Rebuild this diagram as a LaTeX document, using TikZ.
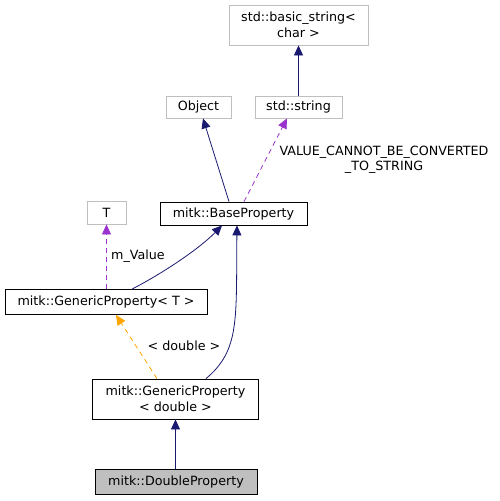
\documentclass[tikz,border=0pt]{standalone}
\usepackage{fontspec}
\setmainfont{DejaVu Sans}
\usetikzlibrary{arrows.meta}
\definecolor{navy}{HTML}{191970}
\definecolor{purp}{HTML}{9A32CD}
\definecolor{orng}{HTML}{FFA500}
\definecolor{gborder}{HTML}{BFBFBF}
\definecolor{gfill}{HTML}{BFBFBF}
\begin{document}
\begin{tikzpicture}[x=1pt,y=-1pt,
  every node/.style={font=\fontsize{12.7}{15.5}\selectfont, inner sep=0pt, align=center},
  ext/.style={draw=gborder, fill=white, line width=0.8pt},
  cls/.style={draw=black, fill=white, line width=0.8pt},
  cur/.style={draw=black, fill=gfill, line width=0.8pt},
  inh/.style={draw=navy, line width=0.8pt, -{Triangle[length=10pt,width=9pt]}},
  use/.style={draw=purp, line width=0.8pt, dash pattern=on 5pt off 4pt, -{Triangle[length=10pt,width=9pt]}},
  tpl/.style={draw=orng, line width=0.8pt, dash pattern=on 5pt off 4pt, -{Triangle[length=10pt,width=9pt]}},
  lbl/.style={font=\fontsize{12.7}{15.5}\selectfont}
]
\useasboundingbox (0,0) rectangle (499,501);
\node[ext, minimum width=139pt, minimum height=40pt] (bs) at (298.5,25) {std::basic\_string<\\char >};
\node[ext, minimum width=87pt, minimum height=22pt] (ss) at (298.5,107) {std::string};
\node[ext, minimum width=65pt, minimum height=22pt] (obj) at (198.5,107) {Object};
\node[cls, minimum width=147pt, minimum height=23pt] (bp) at (233.5,213.5) {mitk::BaseProperty};
\node[ext, minimum width=39pt, minimum height=23pt] (t) at (106.5,212.5) {T};
\node[cls, minimum width=202pt, minimum height=25pt] (gpt) at (106,302) {mitk::GenericProperty< T >};
\node[cls, minimum width=166pt, minimum height=40pt] (gpd) at (175.5,399) {mitk::GenericProperty\\< double >};
\node[cur, minimum width=162pt, minimum height=25pt] (dp) at (176,482) {mitk::DoubleProperty};

\coordinate (ssB) at (298.5,96);
\draw[inh] (ssB) -- (bs.south);
\draw[inh] (bp.north -| 229,0) -- (obj.south -| 203,0);
\draw[use] (bp.north -| 244,0) -- (ss.south -| 287,0);
\node[lbl] (l1) at (384,160) {VALUE\_CANNOT\_BE\_CONVERTED\\\_TO\_STRING};
\draw[inh] (gpt.north -| 132,0) .. controls (165,272) and (200,248) .. (bp.south -| 222,0);
\draw[use] (gpt.north -| 106.5,0) -- (t.south);
\node[lbl, anchor=west] (l2) at (111,256) {m\_Value};
\draw[tpl] (gpd.north -| 157,0) -- (gpt.south -| 116,0);
\node[lbl] (l3) at (184,346) {< double >};
\draw[inh] (gpd.north -| 206,0) .. controls (240,350) and (236,320) .. (bp.south -| 237,0);
\draw[inh] (dp.north -| 175.5,0) -- (gpd.south -| 175.5,0);
\end{tikzpicture}
\end{document}
